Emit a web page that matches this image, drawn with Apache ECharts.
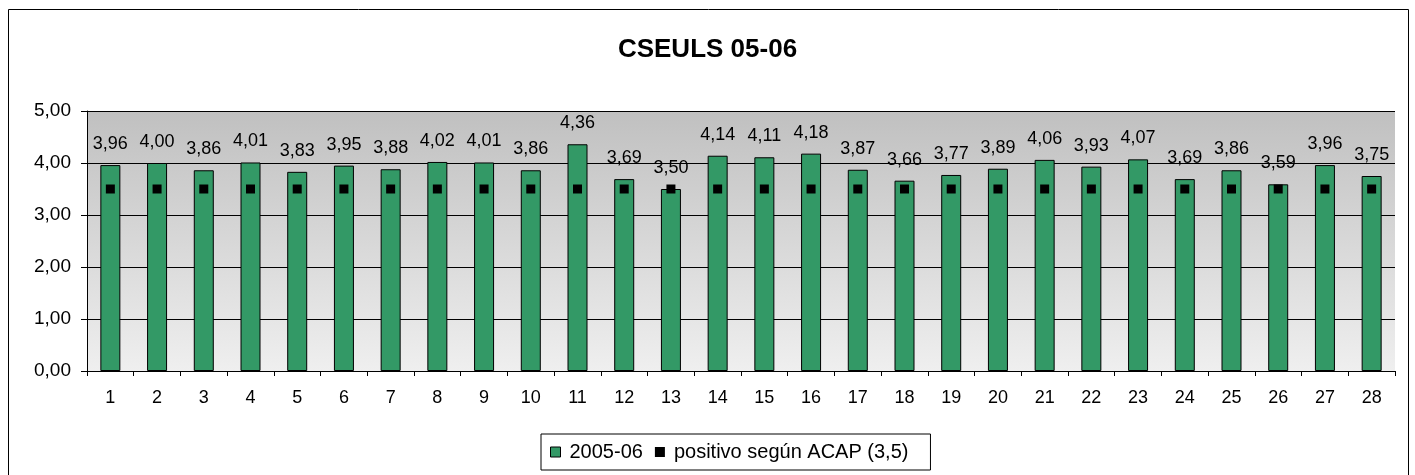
<!DOCTYPE html>
<html><head><meta charset="utf-8">
<script src="https://cdn.jsdelivr.net/npm/echarts@6/dist/echarts.min.js"></script>
<style>html,body{margin:0;padding:0;background:#fff}#c{width:1415px;height:475px}</style>
</head><body><div id="c"></div>
<script>
const categories = ['1','2','3','4','5','6','7','8','9','10','11','12','13','14','15','16','17','18','19','20','21','22','23','24','25','26','27','28'];
const values2005 = [3.96,4.00,3.86,4.01,3.83,3.95,3.88,4.02,4.01,3.86,4.36,3.69,3.50,4.14,4.11,4.18,3.87,3.66,3.77,3.89,4.06,3.93,4.07,3.69,3.86,3.59,3.96,3.75];
const acapValues = [3.5,3.5,3.5,3.5,3.5,3.5,3.5,3.5,3.5,3.5,3.5,3.5,3.5,3.5,3.5,3.5,3.5,3.5,3.5,3.5,3.5,3.5,3.5,3.5,3.5,3.5,3.5,3.5];
const yTicks = [0,1,2,3,4,5];

const fmt = v => v.toFixed(2).replace('.', ',');
const chart = echarts.init(document.getElementById('c'));
const font = 'Liberation Sans, Arial, sans-serif';
chart.setOption({
  animation: false,
  title: {text: 'CSEULS 05-06', left: 'center', top: 32, textStyle: {fontFamily: font, fontWeight: 'bold', fontSize: 26, color: '#000'}},
  graphic: [{type: 'rect', shape: {x: 8.5, y: 9.5, width: 1400, height: 470}, style: {fill: 'none', stroke: '#000', lineWidth: 1}, z: -10}],
  grid: {left: 87, right: 20, top: 111, bottom: 104, show: true, borderWidth: 0,
    backgroundColor: {type: 'linear', x: 0, y: 0, x2: 0, y2: 1, colorStops: [{offset: 0, color: '#c0c0c0'}, {offset: 1, color: '#efefef'}]}},
  legend: {top: 434, left: 541, borderColor: '#000', borderWidth: 1, padding: [8, 22, 8, 9], itemGap: 12,
    textStyle: {fontFamily: font, fontSize: 20, color: '#000', padding: [0, 0, 0, 4]},
    data: [
      {name: '2005-06', icon: 'rect', itemStyle: {color: '#339966', borderColor: '#000', borderWidth: 1}},
      {name: 'positivo según ACAP (3,5)', icon: 'rect', itemStyle: {color: '#000'}}
    ], itemWidth: 10, itemHeight: 10},
  xAxis: {type: 'category', data: categories,
    axisLine: {lineStyle: {color: '#000'}},
    axisTick: {show: true, alignWithLabel: false, length: 5, lineStyle: {color: '#000'}},
    axisLabel: {fontFamily: font, fontSize: 18, color: '#000', margin: 18}},
  yAxis: {type: 'value', min: yTicks[0], max: yTicks[yTicks.length - 1], interval: 1,
    axisLine: {show: true, lineStyle: {color: '#000'}},
    axisTick: {show: true, length: 6, lineStyle: {color: '#000'}},
    splitLine: {show: true, lineStyle: {color: '#000', width: 1}},
    axisLabel: {fontFamily: font, fontSize: 19, color: '#000', margin: 16, formatter: v => fmt(v)}},
  series: [
    {name: '2005-06', type: 'bar', data: values2005, barWidth: 20,
      itemStyle: {color: '#339966', borderColor: '#000', borderWidth: 1},
      label: {show: true, position: 'top', distance: 12, fontFamily: font, fontSize: 18, color: '#000', formatter: p => fmt(p.value)}},
    {name: 'positivo según ACAP (3,5)', type: 'line', data: acapValues, symbol: 'rect', symbolSize: 9,
      lineStyle: {width: 0, opacity: 0}, itemStyle: {color: '#000'}, z: 5}
  ]
});
</script></body></html>
